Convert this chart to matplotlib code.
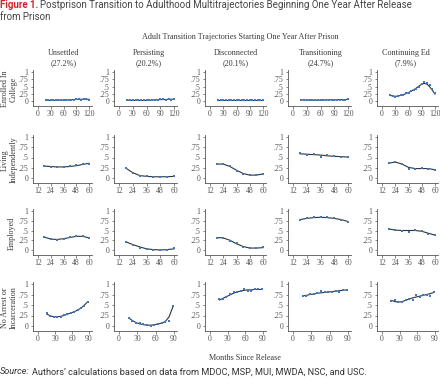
import matplotlib
matplotlib.use("Agg")
import matplotlib.pyplot as plt

# trajectory groups (columns) and outcomes (rows)
groups = ["Unsettled", "Persisting", "Disconnected", "Transitioning", "Continuing Ed"]
shares = ["(27.2%)", "(20.2%)", "(20.1%)", "(24.7%)", "(7.9%)"]
outcomes = ["Enrolled In\nCollege", "Living\nIndependently", "Employed", "No Arrest or\nIncarceration"]

# months at which each outcome was observed
college_months = [18, 24, 30, 36, 42, 48, 54, 60, 66, 72, 78, 84, 90, 96, 102, 108, 114, 120]
living_months = [18, 24, 30, 36, 42, 48, 54, 60]
employed_months = [18, 24, 30, 36, 42, 48, 54, 60]
arrest_months = [16, 22, 28, 34, 40, 46, 52, 58, 64, 70, 76, 82, 88]

# observed proportions, one list per group
college_pts = [
    [0.02, 0.02, 0.02, 0.02, 0.02, 0.03, 0.03, 0.03, 0.04, 0.04, 0.05, 0.05, 0.06, 0.06, 0.05, 0.07, 0.07, 0.05],
    [0.03, 0.03, 0.02, 0.02, 0.02, 0.02, 0.02, 0.02, 0.03, 0.03, 0.03, 0.05, 0.06, 0.06, 0.05, 0.06, 0.05, 0.06],
    [0.03, 0.02, 0.02, 0.03, 0.02, 0.02, 0.02, 0.02, 0.02, 0.02, 0.03, 0.02, 0.02, 0.02, 0.02, 0.02, 0.02, 0.02],
    [0.04, 0.04, 0.03, 0.04, 0.02, 0.03, 0.03, 0.03, 0.03, 0.04, 0.03, 0.04, 0.04, 0.04, 0.05, 0.05, 0.05, 0.07],
    [0.22, 0.18, 0.15, 0.18, 0.19, 0.22, 0.26, 0.29, 0.33, 0.37, 0.42, 0.50, 0.57, 0.65, 0.63, 0.55, 0.42, 0.28],
]
college_fit = [
    [0.02, 0.02, 0.02, 0.02, 0.03, 0.03, 0.03, 0.03, 0.04, 0.04, 0.05, 0.05, 0.06, 0.06, 0.06, 0.06, 0.06, 0.06],
    [0.03, 0.03, 0.02, 0.02, 0.02, 0.02, 0.02, 0.02, 0.03, 0.03, 0.04, 0.04, 0.05, 0.05, 0.05, 0.06, 0.06, 0.06],
    [0.02, 0.02, 0.02, 0.02, 0.02, 0.02, 0.02, 0.02, 0.02, 0.02, 0.02, 0.02, 0.02, 0.02, 0.02, 0.02, 0.02, 0.02],
    [0.04, 0.04, 0.03, 0.03, 0.03, 0.03, 0.03, 0.03, 0.03, 0.04, 0.04, 0.04, 0.04, 0.04, 0.05, 0.05, 0.05, 0.06],
    [0.20, 0.17, 0.16, 0.17, 0.19, 0.22, 0.25, 0.29, 0.34, 0.39, 0.45, 0.52, 0.58, 0.61, 0.58, 0.49, 0.37, 0.24],
]
living_pts = [
    [0.30, 0.28, 0.27, 0.26, 0.29, 0.31, 0.35, 0.35],
    [0.24, 0.12, 0.04, 0.04, 0.03, 0.03, 0.03, 0.04],
    [0.34, 0.34, 0.30, 0.16, 0.10, 0.07, 0.07, 0.10],
    [0.60, 0.57, 0.58, 0.51, 0.56, 0.53, 0.51, 0.51],
    [0.36, 0.38, 0.35, 0.21, 0.23, 0.25, 0.22, 0.20],
]
living_fit = [
    [0.29, 0.28, 0.27, 0.27, 0.28, 0.30, 0.33, 0.36],
    [0.24, 0.13, 0.06, 0.04, 0.03, 0.03, 0.03, 0.04],
    [0.34, 0.34, 0.28, 0.19, 0.11, 0.07, 0.07, 0.10],
    [0.59, 0.58, 0.57, 0.56, 0.54, 0.53, 0.52, 0.51],
    [0.36, 0.39, 0.34, 0.26, 0.23, 0.23, 0.23, 0.20],
]
employed_pts = [
    [0.33, 0.27, 0.26, 0.28, 0.33, 0.35, 0.36, 0.30],
    [0.21, 0.14, 0.06, 0.02, 0.01, 0.00, 0.01, 0.04],
    [0.32, 0.31, 0.24, 0.17, 0.08, 0.05, 0.04, 0.07],
    [0.78, 0.81, 0.84, 0.85, 0.84, 0.82, 0.78, 0.72],
    [0.55, 0.51, 0.50, 0.46, 0.51, 0.49, 0.40, 0.38],
]
employed_fit = [
    [0.33, 0.28, 0.27, 0.29, 0.32, 0.35, 0.35, 0.31],
    [0.21, 0.14, 0.08, 0.03, 0.01, 0.00, 0.01, 0.03],
    [0.32, 0.31, 0.25, 0.16, 0.09, 0.05, 0.05, 0.06],
    [0.78, 0.81, 0.83, 0.84, 0.83, 0.81, 0.78, 0.73],
    [0.54, 0.51, 0.50, 0.50, 0.50, 0.48, 0.43, 0.38],
]
arrest_pts = [
    [0.31, 0.24, 0.22, 0.21, 0.22, 0.26, 0.29, 0.32, 0.33, 0.37, 0.42, 0.47, 0.58],
    [0.20, 0.12, 0.07, 0.06, 0.04, 0.02, 0.01, 0.03, 0.05, 0.06, 0.10, 0.12, 0.47],
    [0.64, 0.64, 0.68, 0.77, 0.80, 0.82, 0.84, 0.88, 0.84, 0.83, 0.87, 0.87, 0.87],
    [0.72, 0.71, 0.76, 0.77, 0.78, 0.83, 0.80, 0.81, 0.82, 0.84, 0.82, 0.86, 0.86],
    [0.60, 0.62, 0.57, 0.56, 0.62, 0.65, 0.63, 0.75, 0.70, 0.73, 0.74, 0.72, 0.82],
]
arrest_fit = [
    [0.28, 0.24, 0.22, 0.22, 0.23, 0.25, 0.28, 0.31, 0.34, 0.38, 0.43, 0.50, 0.58],
    [0.19, 0.13, 0.08, 0.05, 0.03, 0.02, 0.02, 0.03, 0.05, 0.07, 0.11, 0.22, 0.45],
    [0.62, 0.66, 0.70, 0.74, 0.78, 0.81, 0.83, 0.85, 0.86, 0.86, 0.87, 0.87, 0.87],
    [0.72, 0.73, 0.75, 0.76, 0.78, 0.79, 0.80, 0.81, 0.82, 0.83, 0.84, 0.85, 0.86],
    [0.61, 0.58, 0.57, 0.58, 0.61, 0.64, 0.67, 0.69, 0.71, 0.73, 0.75, 0.77, 0.80],
]

college_ticks = [0, 30, 60, 90, 120]
year_ticks = [12, 24, 36, 48, 60]
arrest_ticks = [0, 30, 60, 90]
y_ticks = [0, 0.25, 0.5, 0.75, 1]
y_ticklabels = ["0", ".25", ".5", ".75", "1"]

rows = [
    (college_months, college_pts, college_fit, college_ticks),
    (living_months, living_pts, living_fit, year_ticks),
    (employed_months, employed_pts, employed_fit, year_ticks),
    (arrest_months, arrest_pts, arrest_fit, arrest_ticks),
]

W, H = 440, 384
SERIF = "Liberation Serif"
SANS = "Roboto"
TXT = "#3a3a3a"
BLUE = "#3f78c0"

fig = plt.figure(figsize=(W / 100, H / 100), dpi=100)

# pixel layout: x of first/last tick per column, y of 1 and 0 per row
col_px = [(38, 89), (119, 174), (210, 263), (293, 348), (382, 435)]
row_px = [(72, 101), (137, 178), (211, 250), (284, 326)]


def px_to_axes(x_first, x_last, y1, y0, lo, hi):
    sx = (x_last - x_first) / (hi - lo)
    sy = (y0 - y1)
    left_px = x_first - 5.5
    right_px = x_last + 3
    top_px = y1 - 2
    bot_px = y0 + 5
    xlim = (lo - 5.5 / sx, hi + 3 / sx)
    ylim = (-5 / sy, 1 + 2 / sy)
    rect = [left_px / W, 1 - bot_px / H, (right_px - left_px) / W, (bot_px - top_px) / H]
    return rect, xlim, ylim


for r, (months, pts, fit, xt) in enumerate(rows):
    y1, y0 = row_px[r]
    for c in range(5):
        xf, xl = col_px[c]
        rect, xlim, ylim = px_to_axes(xf, xl, y1, y0, xt[0], xt[-1])
        ax = fig.add_axes(rect)
        ax.plot(months, fit[c], color="#333333", lw=0.8, zorder=2)
        ax.plot(months, pts[c], ls="none", marker="s", ms=1.7, mew=0, color=BLUE, zorder=3)
        ax.set_xlim(*xlim)
        ax.set_ylim(*ylim)
        ax.set_xticks(xt)
        ax.set_xticklabels([str(t) for t in xt], fontsize=5.6, family=SERIF, color=TXT)
        ax.set_yticks(y_ticks)
        ax.set_yticklabels(y_ticklabels, fontsize=5.6, family=SERIF, color=TXT)
        ax.tick_params(length=1.8, width=0.5, pad=1.2, colors="#555555")
        for s in ["top", "right"]:
            ax.spines[s].set_visible(False)
        for s in ["left", "bottom"]:
            ax.spines[s].set_linewidth(0.6)
            ax.spines[s].set_color("#555555")
        ax.patch.set_alpha(0)

# column titles
col_centers = [64, 149, 236, 321, 406]
for c in range(5):
    fig.text(col_centers[c] / W, 1 - 53 / H, groups[c], ha="center", va="center",
             fontsize=5.9, family=SERIF, color=TXT)
    fig.text(col_centers[c] / W, 1 - 63 / H, shares[c], ha="center", va="center",
             fontsize=5.9, family=SERIF, color=TXT)

# row labels
for r in range(4):
    y1, y0 = row_px[r]
    yc = (y1 + y0 + 5) / 2
    xc = 9 if "\n" in outcomes[r] else 12
    fig.text(xc / W, 1 - yc / H, outcomes[r], rotation=90, ha="center", va="center",
             fontsize=5.9, family=SERIF, color=TXT, linespacing=1.1)

fig.text(240 / W, 1 - 37 / H, "Adult Transition Trajectories Starting One Year After Prison",
         ha="center", va="center", fontsize=5.9, family=SERIF, color=TXT)
fig.text(245 / W, 1 - 358 / H, "Months Since Release", ha="center", va="center",
         fontsize=5.9, family=SERIF, color=TXT)

# figure title and source note
renderer = fig.canvas.get_renderer()
t1 = fig.text(0, 1 - 5 / H, "Figure 1.", ha="left", va="center", fontsize=7.0,
              family=SANS, weight="bold", color="#d2232a")
bb = t1.get_window_extent(renderer)
fig.text((bb.x1 + 2) / W, 1 - 5 / H,
         "Postprison Transition to Adulthood Multitrajectories Beginning One Year After Release",
         ha="left", va="center", fontsize=7.0, family=SANS, color="#444444")
fig.text(0, 1 - 17 / H, "from Prison", ha="left", va="center", fontsize=7.0,
         family=SANS, color="#444444")

s1 = fig.text(0, 1 - 372 / H, "Source:", ha="left", va="center", fontsize=6.6,
              family=SANS, style="italic", color="#333333")
bb = s1.get_window_extent(renderer)
fig.text((bb.x1 + 2) / W, 1 - 372 / H,
         "Authors\u2019 calculations based on data from MDOC, MSP, MUI, MWDA, NSC, and USC.",
         ha="left", va="center", fontsize=6.6, family=SANS, color="#333333")

fig.savefig("out.png", dpi=100)
